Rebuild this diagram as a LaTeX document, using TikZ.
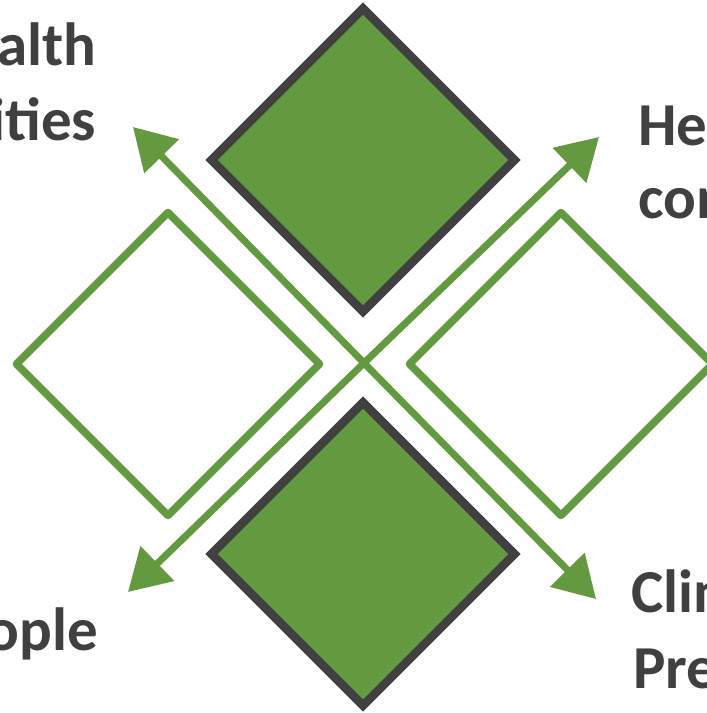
\documentclass[tikz,border=0pt]{standalone}
\usepackage{fontspec}
\setmainfont{Carlito}
\usetikzlibrary{shapes.geometric,arrows.meta}
\definecolor{leaf}{RGB}{99,154,64}
\definecolor{ink}{RGB}{64,64,64}
\tikzset{
  solidbox/.style={shape=diamond, minimum width=303pt, minimum height=303pt, inner sep=0pt, outer sep=0pt, fill=leaf, draw=ink, line width=8.5pt, line join=miter},
  openbox/.style={shape=diamond, minimum width=303pt, minimum height=303pt, inner sep=0pt, outer sep=0pt, fill=white, draw=leaf, line width=7.5pt, line join=round},
  flow/.style={draw=leaf, line width=7pt, -{Triangle[length=41pt,width=47pt]}},
  lbl/.style={text=ink, font=\fontsize{61}{75}\selectfont\bfseries, inner sep=0pt, outer sep=0pt}
}
\begin{document}
\begin{tikzpicture}[x=1pt,y=-1pt]
\useasboundingbox (0,0) rectangle (707,713);
\node[solidbox] (top) at (363,160) {};
\node[solidbox] (bottom) at (363,554) {};
\node[openbox] (left) at (168,364) {};
\node[openbox] (right) at (561,364) {};
\coordinate (c) at (364,363);
\coordinate (nw) at (133,127);
\coordinate (se) at (596,599);
\coordinate (ne) at (599,137);
\coordinate (sw) at (128,592);
\draw[flow] (c) -- (nw);
\draw[flow] (c) -- (se);
\draw[flow] (c) -- (ne);
\draw[flow] (c) -- (sw);
\node[lbl, anchor=base east] (tl1) at (96,65) {Health};
\node[lbl, anchor=base east] (tl2) at (96,140) {Inequalities};
\node[lbl, anchor=base west] (tr1) at (638,145) {Health};
\node[lbl, anchor=base west] (tr2) at (638,218) {conditions};
\node[lbl, anchor=base east] (bl1) at (98,650) {People};
\node[lbl, anchor=base west] (br1) at (631,612) {Clinical};
\node[lbl, anchor=base west] (br2) at (633,688) {Prevention};
\end{tikzpicture}
\end{document}
